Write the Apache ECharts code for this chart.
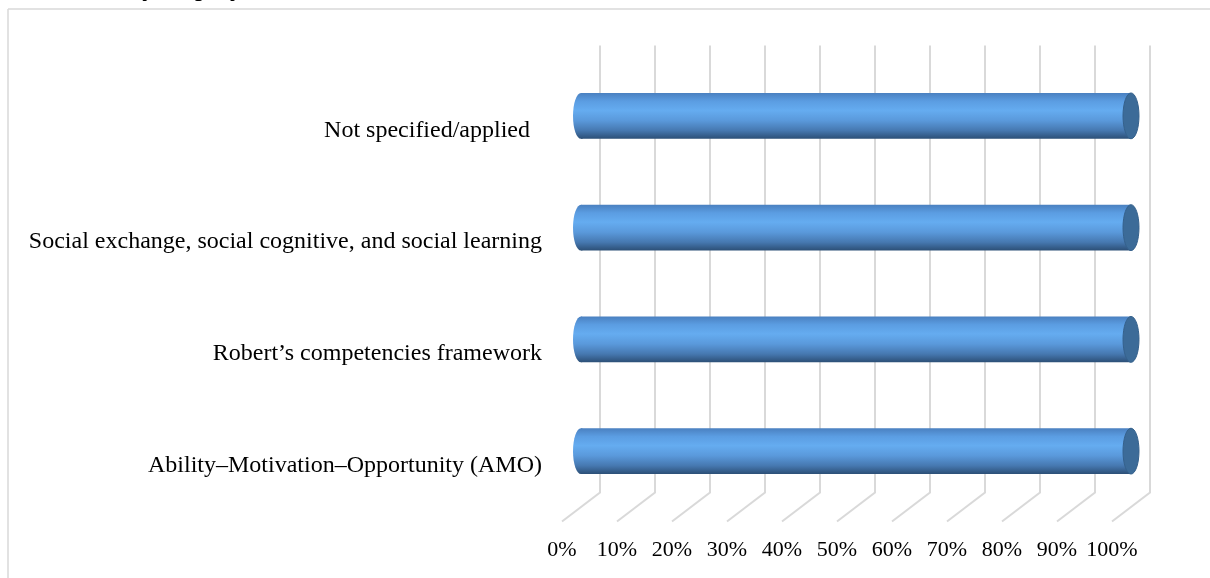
<!DOCTYPE html>
<html>
<head>
<meta charset="utf-8">
<script src="https://cdn.jsdelivr.net/npm/echarts@6/dist/echarts.min.js"></script>
<style>
  html, body { margin: 0; padding: 0; background: #fff; }
  #chart { width: 1210px; height: 578px; }
</style>
</head>
<body>
<div id="chart"></div>
<script>
// Theories applied in the reviewed studies (share of studies, %)
const categories = [
  'Not specified/applied  ',
  'Social exchange, social cognitive, and social learning',
  'Robert\u2019s competencies framework',
  'Ability\u2013Motivation\u2013Opportunity (AMO)'
];
const values = [100, 100, 100, 100];
const tickValues = [0, 10, 20, 30, 40, 50, 60, 70, 80, 90, 100];

// oblique projection offset between the bar plane and the back wall / front floor
const DEPTH_X = 19;
const DEPTH_Y = 14.5;
const FONT = '"Liberation Serif", "Times New Roman", serif';

const chart = echarts.init(document.getElementById('chart'), null, { renderer: 'canvas' });

const bodyGradient = new echarts.graphic.LinearGradient(0, 0, 0, 1, [
  { offset: 0.00, color: '#4a80c0' },
  { offset: 0.18, color: '#5b9de2' },
  { offset: 0.38, color: '#65acf0' },
  { offset: 0.60, color: '#5a99db' },
  { offset: 0.82, color: '#4678b0' },
  { offset: 1.00, color: '#2c4f76' }
]);

chart.setOption({
  animation: false,
  backgroundColor: '#fff',
  grid: { left: 581, right: 79, top: 60, bottom: 71, containLabel: false },
  xAxis: {
    type: 'value',
    min: 0,
    max: 100,
    interval: 10,
    axisLine: { show: false },
    axisTick: { show: false },
    splitLine: { show: false },
    axisLabel: {
      formatter: '{value}%',
      fontFamily: FONT,
      fontSize: 22,
      color: '#000',
      margin: 32,
      padding: [0, DEPTH_X * 2, 0, 0]
    }
  },
  yAxis: {
    type: 'category',
    inverse: true,
    data: categories,
    axisLine: { show: false },
    axisTick: { show: false },
    splitLine: { show: false },
    axisLabel: {
      fontFamily: FONT,
      fontSize: 24,
      color: '#000',
      margin: 39,
      verticalAlign: 'top',
      lineHeight: DEPTH_Y * 2
    }
  },
  graphic: [
    // chart frame
    { type: 'line', shape: { x1: 8, y1: 9, x2: 1210, y2: 9 }, style: { stroke: '#d9d9d9', lineWidth: 1.5 } },
    { type: 'line', shape: { x1: 8, y1: 9, x2: 8, y2: 578 }, style: { stroke: '#d9d9d9', lineWidth: 1.5 } },
    // caption running above the frame
    { type: 'text', x: 78, y: -12, style: { text: 'Theory employed', font: 'italic 28px ' + FONT, fill: '#000', verticalAlign: 'middle' } }
  ],
  series: [
    {
      // back-wall gridlines with their floor returns
      type: 'custom',
      z: 1,
      silent: true,
      data: tickValues.map(v => [v]),
      encode: { x: 0 },
      renderItem(params, api) {
        const cs = params.coordSys;
        const x = api.coord([api.value(0), 0])[0];
        const top = cs.y - DEPTH_Y;
        const bottom = cs.y + cs.height - DEPTH_Y;
        const st = { stroke: '#d9d9d9', lineWidth: 2, fill: null };
        return {
          type: 'polyline',
          shape: { points: [[x + DEPTH_X, top], [x + DEPTH_X, bottom], [x - DEPTH_X, bottom + 2 * DEPTH_Y]] },
          style: st
        };
      }
    },
    {
      // cylinder bars
      type: 'custom',
      z: 2,
      data: values.map((v, i) => [v, i]),
      encode: { x: 0, y: 1 },
      renderItem(params, api) {
        const v = api.value(0);
        const cat = api.value(1);
        const start = api.coord([0, cat]);
        const end = api.coord([v, cat]);
        const band = api.size([0, 1])[1];
        const h = band * 0.41;
        const cy = start[1];
        const rx = 8;
        return {
          type: 'group',
          children: [
            { type: 'ellipse', shape: { cx: start[0], cy: cy, rx: rx, ry: h / 2 }, style: { fill: bodyGradient } },
            { type: 'rect', shape: { x: start[0], y: cy - h / 2, width: end[0] - start[0], height: h }, style: { fill: bodyGradient } },
            { type: 'ellipse', shape: { cx: end[0], cy: cy, rx: rx, ry: h / 2 }, style: { fill: '#3c6b98', stroke: '#35618c', lineWidth: 1 } }
          ]
        };
      }
    }
  ]
});
</script>
</body>
</html>
